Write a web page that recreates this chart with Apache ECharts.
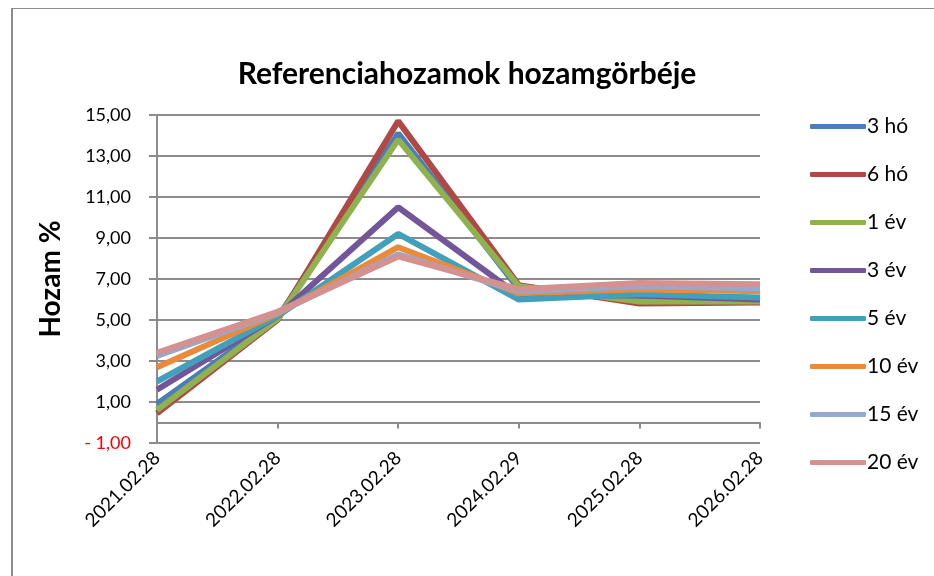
<!DOCTYPE html>
<html>
<head>
<meta charset="utf-8">
<script src="https://cdn.jsdelivr.net/npm/echarts@6/dist/echarts.min.js"></script>
<style>
  html, body { margin: 0; padding: 0; background: #fff; }
  #chart { width: 934px; height: 576px; }
</style>
</head>
<body>
<div id="chart"></div>
<script>
// categories (x axis)
const dates = ["2021.02.28", "2022.02.28", "2023.02.28", "2024.02.29", "2025.02.28", "2026.02.28"];

// yields, %
const ho3 = [0.9, 5.1, 14.1, 6.5, 6.0, 5.95];
const ho6 = [0.45, 5.0, 14.7, 6.7, 5.8, 5.85];
const ev1 = [0.6, 5.05, 13.8, 6.65, 5.9, 5.9];
const ev3 = [1.6, 5.2, 10.5, 6.2, 6.2, 6.0];
const ev5 = [2.0, 5.2, 9.2, 6.0, 6.25, 6.1];
const ev10 = [2.7, 5.3, 8.55, 6.3, 6.5, 6.4];
const ev15 = [3.25, 5.35, 8.2, 6.4, 6.65, 6.55];
const ev20 = [3.4, 5.4, 8.1, 6.5, 6.8, 6.75];

const seriesNames = ["3 hó", "6 hó", "1 év", "3 év", "5 év", "10 év", "15 év", "20 év"];
const seriesData = [ho3, ho6, ev1, ev3, ev5, ev10, ev15, ev20];
const colors = ["#4a7ebb", "#b04845", "#8fb24f", "#735699", "#42a0bb", "#ec8a3c", "#93a9cf", "#d49190"];

const FONT = "Lato, 'Open Sans', sans-serif";

const chart = echarts.init(document.getElementById("chart"), null, { renderer: "canvas" });

const option = {
  backgroundColor: "#fff",
  animation: false,
  color: colors,
  title: {
    text: "Referenciahozamok hozamgörbéje",
    left: 462,
    textAlign: "center",
    top: 54,
    textStyle: { fontFamily: FONT, fontSize: 30, fontWeight: "bold", color: "#000" }
  },
  legend: {
    orient: "vertical",
    left: 805,
    top: 111,
    itemWidth: 56,
    itemHeight: 5,
    itemGap: 27,
    icon: "roundRect",
    textStyle: { fontFamily: FONT, fontSize: 21, color: "#000", padding: [0, 0, 0, -4] },
    data: seriesNames
  },
  grid: { left: 157, right: 174, top: 115, bottom: 133 },
  xAxis: [
    {
      type: "category",
      data: dates,
      boundaryGap: false,
      axisLine: { onZero: true, lineStyle: { color: "#8c8c8c", width: 2 } },
      axisTick: { show: true, length: 6, lineStyle: { color: "#8c8c8c", width: 2 } },
      axisLabel: { show: false },
      splitLine: { show: false }
    },
    {
      type: "category",
      data: dates,
      boundaryGap: false,
      position: "bottom",
      axisLine: { show: false, onZero: false },
      axisTick: { show: false },
      axisLabel: {
        rotate: 45,
        margin: 12,
        interval: 0,
        fontFamily: FONT,
        fontSize: 19,
        color: "#000"
      },
      splitLine: { show: false }
    }
  ],
  yAxis: {
    type: "value",
    min: -1,
    max: 15,
    interval: 2,
    name: "Hozam %",
    nameLocation: "middle",
    nameGap: 92,
    nameRotate: 90,
    nameTextStyle: { fontFamily: FONT, fontSize: 28, fontWeight: "bold", color: "#000" },
    axisLine: { show: true, lineStyle: { color: "#8c8c8c", width: 2 } },
    axisTick: { show: true, length: 8, lineStyle: { color: "#8c8c8c", width: 2 } },
    axisLabel: {
      margin: 26,
      fontFamily: FONT,
      fontSize: 18,
      color: "#000",
      formatter: function (v) {
        const s = Math.abs(v).toFixed(2).replace(".", ",");
        return v < 0 ? "{neg|- " + s + "}" : s;
      },
      rich: { neg: { color: "#ff0000", fontFamily: FONT, fontSize: 18 } }
    },
    splitLine: { show: true, lineStyle: { color: "#8c8c8c", width: 2 } }
  },
  graphic: [
    { type: "line", shape: { x1: 12, y1: 8, x2: 12, y2: 576 }, style: { stroke: "#8c8c8c", lineWidth: 2 } },
    { type: "line", shape: { x1: 12, y1: 8.5, x2: 934, y2: 8.5 }, style: { stroke: "#8c8c8c", lineWidth: 1 } }
  ],
  series: seriesNames.map((name, i) => ({
    name: name,
    type: "line",
    xAxisIndex: 0,
    data: seriesData[i],
    symbol: "none",
    lineStyle: { width: 6, color: colors[i] },
    itemStyle: { color: colors[i] }
  }))
};

chart.setOption(option);
</script>
</body>
</html>
